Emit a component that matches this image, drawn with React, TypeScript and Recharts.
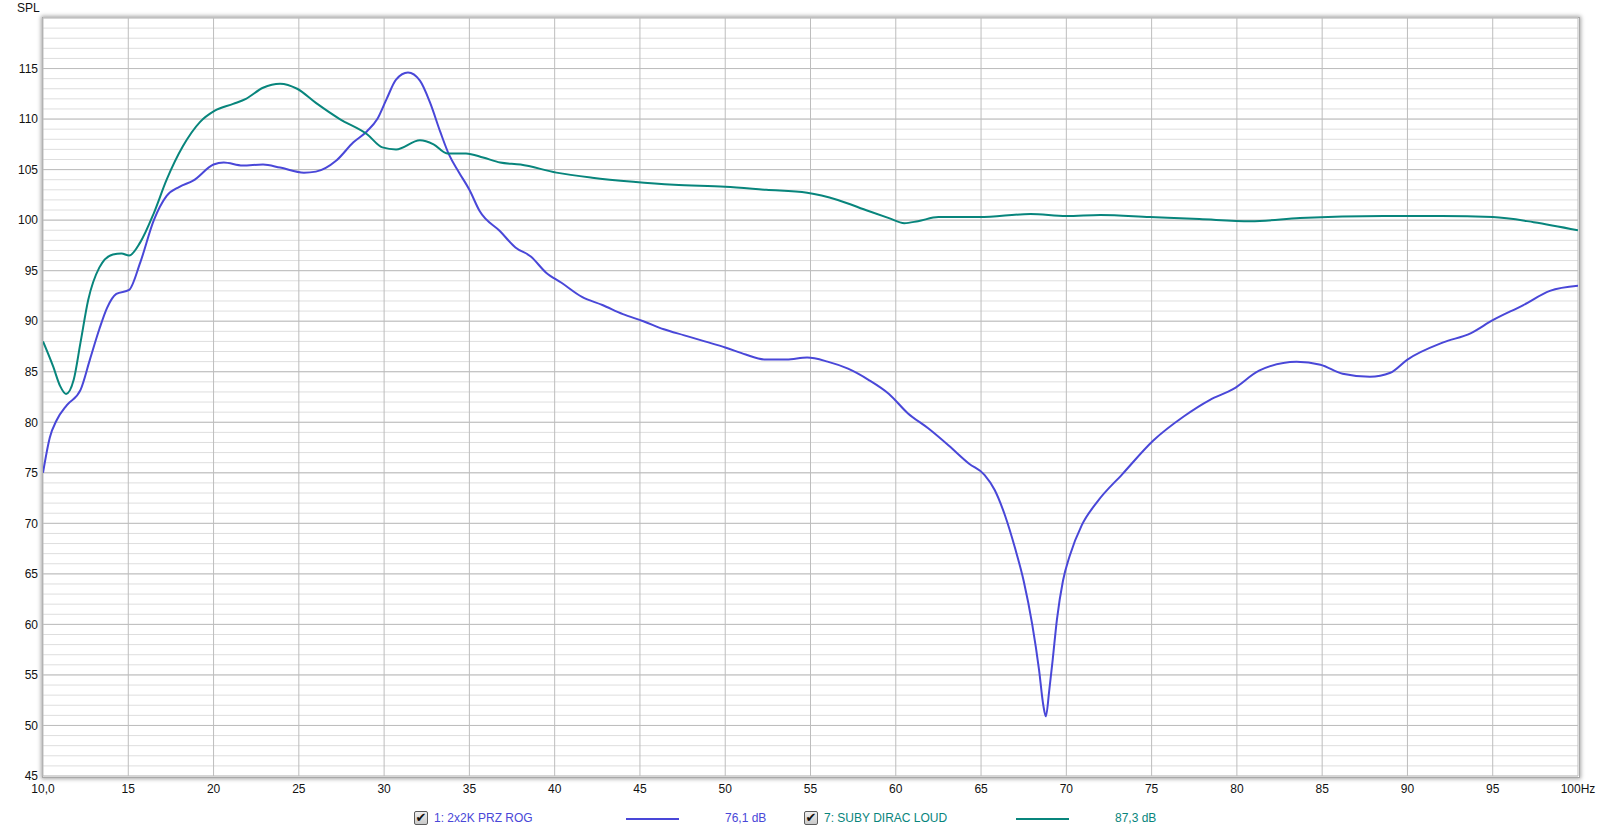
import React from 'react';
import { LineChart, Line, XAxis, YAxis, CartesianGrid } from 'recharts';

// 1: 2x2K PRZ ROG
const blueFreq = [
  10.0, 10.4, 10.8, 11.4, 12.2, 12.75, 13.3, 13.75, 14.3, 15.05, 15.7, 16.5, 17.25, 18.0, 18.8,
  20.0, 20.6, 21.7, 22.9, 23.9, 25.3, 26.0, 27.2, 28.2, 29.0, 29.6, 30.15, 30.7, 31.4, 32.1,
  32.7, 33.3, 33.8, 34.4, 35.0, 35.6, 36.8, 37.7, 38.6, 39.5, 40.4, 41.6, 42.8, 44.0, 45.2,
  46.4, 47.6, 48.8, 50.0, 51.2, 52.4, 53.6, 54.8, 56.0, 57.2, 58.4, 59.6, 60.7, 61.9, 63.1,
  64.3, 65.2, 65.8, 66.4, 67.0, 67.5, 68.0, 68.4, 68.65, 68.8, 69.0, 69.2, 69.45, 69.8, 70.2,
  70.9, 71.8, 73.3, 75.1, 76.9, 78.4, 79.8, 81.3, 83.5, 84.9, 86.2, 87.8, 89.0, 90.0, 92.1,
  93.7, 95.0, 96.8, 98.35, 100.0,
];
const blueSpl = [
  75.0, 78.5, 80.2, 81.7, 83.2, 86.2, 89.2, 91.3, 92.7, 93.1, 95.8, 100.0, 102.4, 103.3, 103.9,
  105.5, 105.7, 105.4, 105.5, 105.2, 104.7, 104.8, 105.9, 107.7, 108.8, 110.0, 112.0, 113.9, 114.6, 113.8,
  111.6, 108.7, 106.5, 104.7, 103.0, 100.9, 98.9, 97.3, 96.4, 94.8, 93.8, 92.4, 91.6, 90.7, 90.0,
  89.2, 88.6, 88.0, 87.4, 86.7, 86.2, 86.2, 86.4, 86.0, 85.3, 84.2, 82.8, 80.9, 79.4, 77.7,
  75.9, 74.8, 73.3, 70.8, 67.5, 64.3, 60.0, 55.5, 52.0, 50.9, 53.5, 56.5, 60.5, 64.3, 66.8,
  69.8, 72.1, 74.9, 78.2, 80.6, 82.2, 83.3, 85.1, 86.0, 85.7, 84.8, 84.5, 84.9, 86.2, 87.9,
  88.8, 90.1, 91.6, 93.0, 93.5,
];

// 7: SUBY DIRAC LOUD
const tealFreq = [
  10.0, 10.6, 11.0, 11.35, 11.8, 12.2, 12.65, 13.3, 14.1, 14.6, 15.05, 15.7, 16.5, 17.25, 18.2,
  19.2, 20.05, 21.15, 21.9, 22.9, 23.9, 24.9, 26.0, 27.4, 29.0, 29.9, 30.7, 32.1, 32.9, 33.7,
  34.8, 35.8, 36.8, 38.0, 40.1, 42.2, 44.6, 47.0, 50.0, 52.4, 54.8, 56.6, 58.4, 59.6, 60.5,
  61.3, 62.5, 64.9, 67.9, 70.0, 72.0, 74.9, 77.8, 80.8, 83.7, 88.6, 92.0, 95.0, 97.4, 100.0,
];
const tealSpl = [
  88.0, 85.5, 83.6, 82.8, 84.2, 87.9, 92.1, 95.3, 96.6, 96.7, 96.5, 97.8, 100.7, 104.0, 107.3,
  109.7, 110.8, 111.5, 112.0, 113.1, 113.5, 113.0, 111.6, 110.0, 108.5, 107.2, 107.0, 107.9, 107.5, 106.6,
  106.6, 106.2, 105.7, 105.5, 104.7, 104.2, 103.8, 103.5, 103.3, 103.0, 102.7, 102.0, 100.9, 100.2, 99.7,
  99.9, 100.3, 100.3, 100.6, 100.4, 100.5, 100.3, 100.1, 99.9, 100.2, 100.4, 100.4, 100.3, 99.8, 99.0,
];

const xTicks = [10, 15, 20, 25, 30, 35, 40, 45, 50, 55, 60, 65, 70, 75, 80, 85, 90, 95, 100];
const yTicks = [45, 50, 55, 60, 65, 70, 75, 80, 85, 90, 95, 100, 105, 110, 115, 120];
const yLabels = [45, 50, 55, 60, 65, 70, 75, 80, 85, 90, 95, 100, 105, 110, 115];
const minorDb = Array.from({ length: 76 }, (_, i) => 45 + i);

const blueData = blueFreq.map((f, i) => ({ f, spl: blueSpl[i] }));
const tealData = tealFreq.map((f, i) => ({ f, spl: tealSpl[i] }));

const BLUE = '#4947d8';
const TEAL = '#08857c';
const FONT = '"Liberation Sans", Arial, sans-serif';

const W = 1600;
const H = 833;
const PL = 43, PT = 18, PR = 1578, PB = 776;

function fmtX(v: number) {
  if (v === 10) return '10,0';
  if (v === 100) return '100Hz';
  return String(v);
}

function Check({ x }: { x: number }) {
  return (
    <div
      style={{
        position: 'absolute', left: x, top: 811, width: 12, height: 12,
        border: '1px solid #5a5a5a', borderRadius: 2,
        background: 'linear-gradient(#f0f0f0, #c8c8c8)',
        fontSize: 13, lineHeight: '12px', textAlign: 'center', color: '#111',
        fontFamily: '"DejaVu Sans", sans-serif', fontWeight: 'bold',
      }}
    >
      ✔
    </div>
  );
}

export default function App() {
  const text = { position: 'absolute' as const, top: 811, fontSize: 12, fontFamily: FONT, lineHeight: '14px' };
  return (
    <div style={{ position: 'fixed', left: 0, top: 0, width: W, height: H, background: '#fff', overflow: 'hidden' }}>
      <div
        style={{
          position: 'absolute', left: PL - 1, top: PT - 1, width: PR - PL + 1, height: PB - PT + 1,
          border: '1px solid #a8a8a8', boxShadow: '0 0 4px 1px rgba(0,0,0,0.35)', background: '#fff',
        }}
      />
      <div style={{ position: 'absolute', left: 17, top: 1, fontSize: 12, fontFamily: FONT, color: '#111' }}>SPL</div>
      <div style={{ position: 'absolute', left: 0, top: 0 }}>
        <LineChart width={W} height={H} margin={{ top: PT, right: W - PR, bottom: 0, left: 0 }}>
          <CartesianGrid horizontalValues={minorDb} vertical={false} stroke="#dedede" />
          <CartesianGrid stroke="#bdbdbd" />
          <XAxis
            type="number"
            dataKey="f"
            domain={[10, 100]}
            ticks={xTicks}
            allowDataOverflow
            axisLine={false}
            tickLine={false}
            tickSize={4}
            tickMargin={4}
            height={H - PB}
            tickFormatter={fmtX}
            tick={{ fill: '#111', fontSize: 12, fontFamily: FONT }}
            interval={0}
          />
          <YAxis
            type="number"
            domain={[45, 120]}
            ticks={yTicks}
            allowDataOverflow
            axisLine={false}
            tickLine={false}
            tickSize={2}
            tickMargin={3}
            width={PL}
            interval={0}
            tickFormatter={(v: number) => (yLabels.includes(v) ? String(v) : '')}
            tick={{ fill: '#111', fontSize: 12, fontFamily: FONT }}
          />
          <Line data={blueData} dataKey="spl" type="monotone" stroke={BLUE} strokeWidth={2} dot={false} isAnimationActive={false} />
          <Line data={tealData} dataKey="spl" type="monotone" stroke={TEAL} strokeWidth={2} dot={false} isAnimationActive={false} />
        </LineChart>
      </div>
      <Check x={414} />
      <div style={{ ...text, left: 434, color: BLUE }}>1: 2x2K PRZ ROG</div>
      <div style={{ position: 'absolute', left: 626, top: 818, width: 53, height: 2, background: BLUE }} />
      <div style={{ ...text, left: 725, color: BLUE }}>76,1 dB</div>
      <Check x={804} />
      <div style={{ ...text, left: 824, color: TEAL }}>7: SUBY DIRAC LOUD</div>
      <div style={{ position: 'absolute', left: 1016, top: 818, width: 53, height: 2, background: TEAL }} />
      <div style={{ ...text, left: 1115, color: TEAL }}>87,3 dB</div>
    </div>
  );
}
